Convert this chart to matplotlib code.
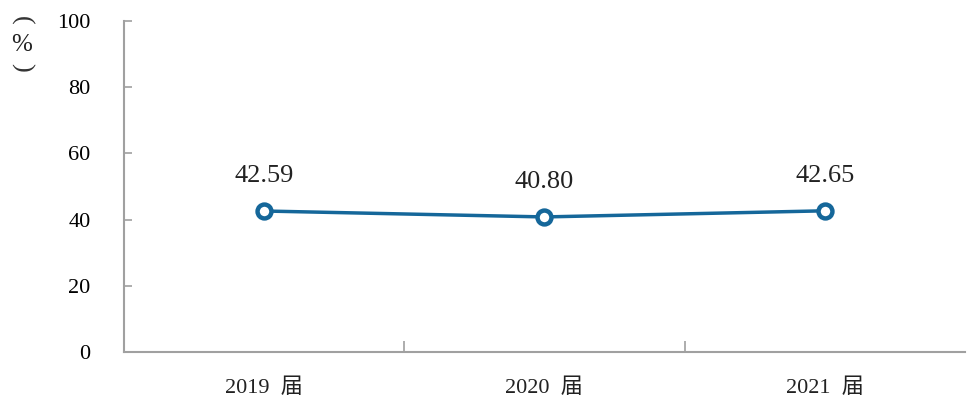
import matplotlib.pyplot as plt

years = ["2019", "2020", "2021"]
rates = [42.59, 40.80, 42.65]
y_ticks = [0, 20, 40, 60, 80, 100]

serif = ["Liberation Serif", "Noto Sans CJK SC"]
line_color = "#15679a"

fig = plt.figure(figsize=(9.67, 4.01), dpi=100)
ax = fig.add_axes([0.128, 0.122, 0.87, 0.826])

x = list(range(len(years)))
ax.plot(x, rates, color=line_color, linewidth=2.5, marker="o", markersize=10,
        markerfacecolor="white", markeredgecolor=line_color, markeredgewidth=3.2, zorder=3)

for xi, v in zip(x, rates):
    ax.annotate(f"{v:.2f}", (xi, v), xytext=(0, 17), textcoords="offset points",
                ha="center", va="bottom", fontsize=19, family=serif, color="#222222")

ax.set_xlim(-0.5, len(years) - 0.5)
ax.set_ylim(0, 100)
ax.set_yticks(y_ticks)
ax.set_yticklabels([str(t) for t in y_ticks], family=serif, fontsize=16)

# category labels at centres, tick marks at the boundaries
ax.set_xticks([i + 0.5 for i in range(len(years) - 1)])
ax.set_xticklabels([])
ax.tick_params(axis="x", direction="in", length=8, color="#a0a0a0", width=1.2)
ax.tick_params(axis="y", direction="in", length=6, color="#a0a0a0", width=1.2, pad=24)
for xi, yr in zip(x, years):
    ax.text(xi, -0.08, f"{yr}  届", transform=ax.get_xaxis_transform(),
            ha="center", va="top", fontsize=16, family=serif, color="#222222")

for s in ["top", "right"]:
    ax.spines[s].set_visible(False)
for s in ["left", "bottom"]:
    ax.spines[s].set_color("#a0a0a0")
    ax.spines[s].set_linewidth(1.5)

# vertical "(%)" unit label
fig.text(0.022, 0.948, "(", rotation=-90, ha="center", va="center", fontsize=19,
         family=serif, color="#333333")
fig.text(0.022, 0.888, "%", ha="center", va="center", fontsize=18,
         family=serif, color="#222222")
fig.text(0.022, 0.832, ")", rotation=-90, ha="center", va="center", fontsize=19,
         family=serif, color="#333333")

fig.savefig("out.png", dpi=100)
